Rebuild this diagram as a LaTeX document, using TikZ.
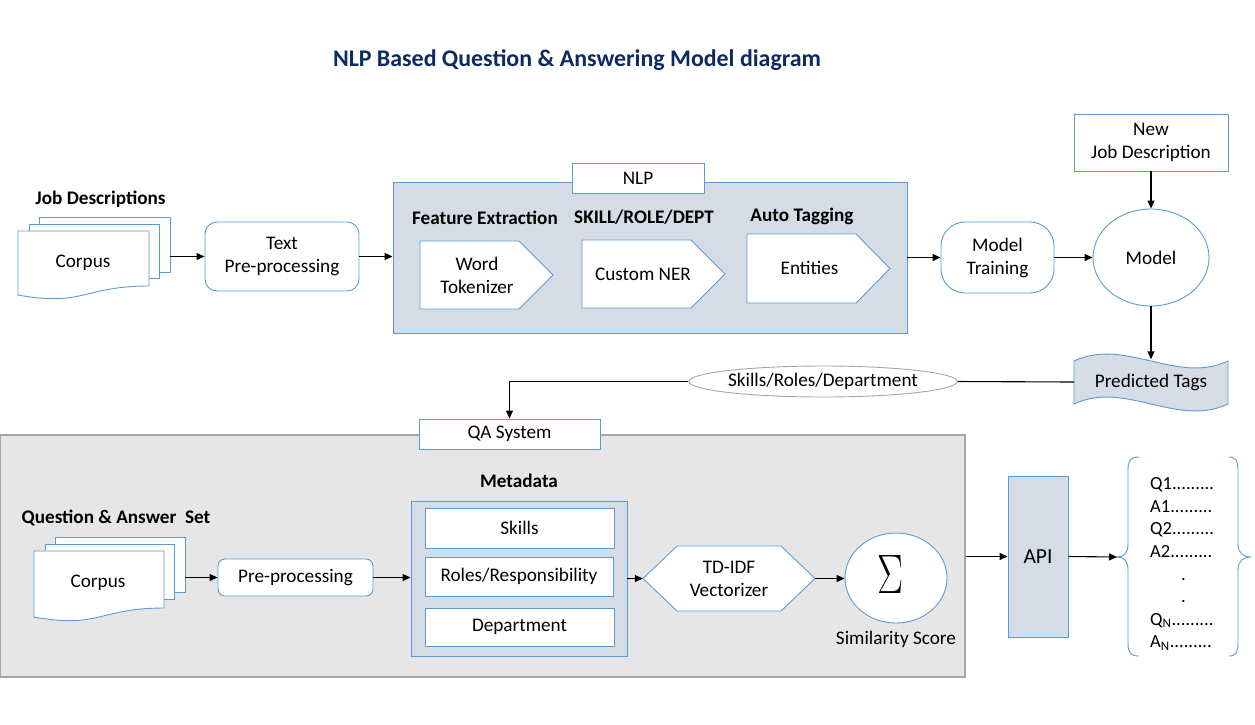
\documentclass[tikz,border=0pt]{standalone}
\usepackage{fontspec}
\usepackage{graphicx}
\setmainfont{Carlito}
\usetikzlibrary{arrows.meta,shapes.geometric,calc}
\definecolor{bord}{HTML}{5B9BD5}
\definecolor{nlpfill}{HTML}{D6DCE5}
\definecolor{qafill}{HTML}{E6E6E6}
\definecolor{qabord}{HTML}{A6A6A6}
\definecolor{titlec}{HTML}{0E2A62}
\begin{document}
\begin{tikzpicture}[x=1pt,y=-1pt,
  font=\fontsize{19.2}{23}\selectfont,
  conn/.style={draw=black, line width=1.1pt, -{Triangle[length=8pt,width=7pt]}},
  plainline/.style={draw=black, line width=1.1pt},
  bluebox/.style={draw=bord, line width=0.9pt, fill=white, inner sep=0pt, align=center},
  shapeline/.style={draw=bord, line width=0.9pt, fill=white},
  lbl/.style={inner sep=0pt, align=center},
  boldlbl/.style={inner sep=0pt, align=center, font=\fontsize{19.2}{23}\selectfont\bfseries},
  docst/.style={draw=bord, line width=0.9pt, fill=white, inner sep=0pt}
]
\useasboundingbox (0,0) rectangle (1255,724);
\fill[white] (0,0) rectangle (1255,724);

% title
\node[lbl, text=titlec, font=\fontsize{23.9}{28}\selectfont\bfseries] (title) at (577,60) {NLP Based Question \& Answering Model diagram};

% ---------- top row ----------
\node[boldlbl] (jobdesc) at (100.5,199) {Job Descriptions};
\node[docst, minimum width=131pt, minimum height=55pt] (corpusb) at (104.5,244.5) {};
\draw[docst] (29,224) rectangle (159,278);
\draw[docst] (18,231) -- (149,231) -- (149,286) .. controls (83.5,286) and (83.5,307) .. (18,295) -- cycle;
\node[lbl] (corpus) at (83,263) {Corpus};

\node[bluebox, rounded corners=12pt, minimum width=154pt, minimum height=69pt] (textpre) at (282,256.5) {Text\\Pre-processing};

\node[draw=bord, line width=0.9pt, fill=nlpfill, minimum width=514pt, minimum height=151pt, inner sep=0pt] (nlp) at (650,257.5) {};
\node[bluebox, minimum width=132pt, minimum height=30pt] (nlplbl) at (638,178) {NLP};

\node[boldlbl] (featx) at (485,218) {Feature Extraction};
\node[boldlbl] (skilldept) at (644,217) {SKILL/ROLE/DEPT};
\node[boldlbl] (autotag) at (802,216) {Auto Tagging};

\draw[shapeline] (420,241) -- (519,241) -- (553,275) -- (519,309) -- (420,309) -- cycle;
\draw[shapeline] (582,240) -- (691,240) -- (725,274) -- (691,308) -- (582,308) -- cycle;
\draw[shapeline] (747,234) -- (856,234) -- (890,268.5) -- (856,303) -- (747,303) -- cycle;
\node[lbl] (wt) at (477,275) {Word\\Tokenizer};
\node[lbl] (ner) at (643,274) {Custom NER};
\node[lbl] (ent) at (809.5,268) {Entities};

\node[bluebox, rounded corners=24pt, minimum width=113pt, minimum height=71pt] (mtrain) at (997.5,257.5) {Model\\Training};
\node[bluebox, ellipse, minimum width=116pt, minimum height=97pt] (model) at (1151,257.5) {Model};
\node[bluebox, minimum width=154pt, minimum height=57pt] (newjd) at (1151,142.5) {New\\Job Description};

\draw[draw=bord, line width=0.9pt, fill=nlpfill] (1074,361) .. controls (1125,337) and (1177,385) .. (1228,361) -- (1228,404) .. controls (1177,428) and (1125,380) .. (1074,404) -- cycle;
\node[lbl, minimum width=154pt, minimum height=45pt] (ptags) at (1151,382) {Predicted Tags};

\node[draw=qabord, line width=0.9pt, fill=white, ellipse, inner sep=0pt, minimum width=250pt, minimum height=31pt] (srd) at (823,381.5) {Skills/Roles/Department};

% ---------- QA system ----------
\node[draw=qabord, line width=1.2pt, fill=qafill, minimum width=964.5pt, minimum height=242pt, inner sep=0pt] (qabox) at (482.75,556) {};
\node[bluebox, minimum width=181pt, minimum height=30pt] (qalbl) at (509.5,434) {QA System};

\node[boldlbl] (qaset) at (116,518) {Question \& Answer \ Set};
\node[docst, minimum width=130pt, minimum height=55pt] (corpus2b) at (120,564.5) {};
\draw[docst] (45,544) rectangle (174,599);
\draw[docst] (34,551) -- (164,551) -- (164,608) .. controls (99,608) and (99,629) .. (34,617) -- cycle;
\node[lbl] (corpus2) at (98,583) {Corpus};

\node[bluebox, rounded corners=7pt, minimum width=155pt, minimum height=37pt] (prep) at (295.5,577.5) {Pre-processing};

\node[boldlbl] (metat) at (519,481) {Metadata};
\node[draw=bord, line width=0.9pt, fill=nlpfill, minimum width=216pt, minimum height=155pt, inner sep=0pt] (meta) at (519,578.5) {};
\node[bluebox, minimum width=189pt, minimum height=40pt] (skills) at (519.5,528) {Skills};
\node[bluebox, minimum width=188pt, minimum height=39pt] (roles) at (519,576.5) {Roles/Responsibility};
\node[bluebox, minimum width=189pt, minimum height=38pt] (dept) at (519.5,627) {Department};

\draw[shapeline] (643,578.5) -- (677,546) -- (781,546) -- (815,578.5) -- (781,611) -- (677,611) -- cycle;
\node[lbl, minimum width=172pt, minimum height=65pt] (tdidf) at (729,578.5) {TD-IDF\\Vectorizer};

\node[bluebox, ellipse, minimum width=102pt, minimum height=90pt] (sigma) at (896,578) {};
\node[lbl] (sigmasym) at (890,574) {\resizebox{26pt}{38pt}{$\Sigma$}};
\node[lbl] (simsc) at (896,639) {Similarity Score};

\node[draw=bord, line width=0.9pt, fill=nlpfill, minimum width=60pt, minimum height=161pt, inner sep=0pt, font=\fontsize{21.5}{24}\selectfont] (api) at (1038,556.5) {API};

% braces
\draw[draw=bord, line width=0.9pt] (1139,457) .. controls (1130,457) and (1128,461) .. (1128,470) -- (1128,544) .. controls (1128,553) and (1124,557) .. (1117,557) .. controls (1124,557) and (1128,561) .. (1128,570) -- (1128,643) .. controls (1128,652) and (1130,656) .. (1139,656);
\draw[draw=bord, line width=0.9pt] (1229,457) .. controls (1236,457) and (1238,461) .. (1238,470) -- (1238,544) .. controls (1238,553) and (1243,557) .. (1251,557) .. controls (1243,557) and (1238,561) .. (1238,570) -- (1238,643) .. controls (1238,652) and (1236,656) .. (1229,656);
\coordinate (btip) at (1117,557);
\node[lbl, anchor=west, align=left, font=\fontsize{18.5}{22.6}\selectfont] (qalist) at (1150,564) {Q1.........\\A1.........\\Q2.........\\A2.........\\\hspace*{31pt}.\\\hspace*{31pt}.\\Q\textsubscript{N}.........\\A\textsubscript{N}.........};

% ---------- connectors ----------
\draw[conn] (corpusb.east |- textpre.west) -- (textpre.west);
\draw[conn] (textpre.east) -- (textpre.east -| nlp.west);
\draw[conn] (nlp.east |- mtrain.west) -- (mtrain.west);
\draw[conn] (mtrain.east) -- (mtrain.east -| model.west);
\draw[conn] (newjd.south) -- (model.north);
\draw[conn] (model.south) -- (ptags.north);
\draw[plainline] (ptags.west) -- (srd.east);
\draw[conn] (srd.west) -- (srd.west -| qalbl.north) -- (qalbl.north);
\draw[conn] (corpus2b.east |- prep.west) -- (prep.west);
\draw[conn] (prep.east) -- (prep.east -| meta.west);
\draw[conn] (meta.east |- tdidf.west) -- (tdidf.west);
\draw[conn] (tdidf.east) -- (tdidf.east -| sigma.west);
\draw[conn] (qabox.east |- api.west) -- (api.west);
\draw[conn] (api.east) -- (btip);
\end{tikzpicture}
\end{document}
